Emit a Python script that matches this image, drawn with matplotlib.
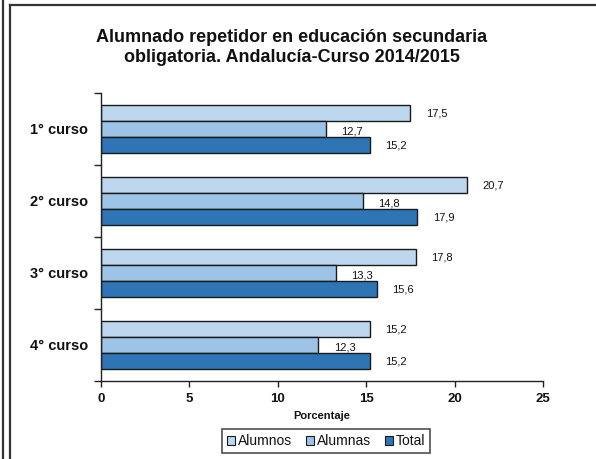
import matplotlib
matplotlib.use("Agg")
import matplotlib.pyplot as plt
from matplotlib.lines import Line2D
from matplotlib.patches import Patch
import numpy as np

plt.rcParams['font.family'] = ['Liberation Sans', 'DejaVu Sans']

cursos = ["1° curso", "2° curso", "3° curso", "4° curso"]
series = ["Alumnos", "Alumnas", "Total"]
alumnos = [17.5, 20.7, 17.8, 15.2]
alumnas = [12.7, 14.8, 13.3, 12.3]
total = [15.2, 17.9, 15.6, 15.2]
x_ticks = [0, 5, 10, 15, 20, 25]

colors = ["#BDD7EE", "#9DC3E6", "#2E75B6"]
text_col = "#111111"

W, H = 596, 459
fig = plt.figure(figsize=(W / 100, H / 100), dpi=100)
fig.patch.set_facecolor("white")

# outer frame lines
fig.add_artist(Line2D([2.5 / W, 2.5 / W], [0, 1], color="#333333", lw=1.6))
fig.add_artist(Line2D([9.5 / W, 9.5 / W], [0, 1 - 5 / H], color="#333333", lw=1.6))
fig.add_artist(Line2D([9.5 / W, 1], [1 - 5 / H, 1 - 5 / H], color="#333333", lw=1.6))

left, right = 101 / W, 543 / W
top, bottom = 1 - 93 / H, 1 - 381 / H
ax = fig.add_axes([left, bottom, right - left, top - bottom])

y = np.arange(len(cursos))
h = 16 / 72
offsets = [-h, 0, h]
data = [alumnos, alumnas, total]
for vals, off, c, name in zip(data, offsets, colors, series):
    bars = ax.barh(y + off, vals, height=h, color=c, edgecolor="#1a1a1a",
                   linewidth=1.0, label=name)
    for b, v in zip(bars, vals):
        dy = -2 if name == "Alumnas" else 0
        ax.annotate(f"{v:.1f}".replace(".", ","),
                    xy=(b.get_width(), b.get_y() + b.get_height() / 2),
                    xytext=(11, dy), textcoords="offset points",
                    ha="left", va="center", fontsize=8, color=text_col)

ax.set_xlim(0, 25)
ax.set_ylim(len(cursos) - 0.5, -0.5)
ax.set_xticks(x_ticks)
ax.set_xticklabels([str(t) for t in x_ticks], fontsize=9.5, fontweight="bold",
                   color=text_col)
ax.set_yticks(y)
ax.set_yticklabels(cursos, fontsize=10.5, fontweight="bold", color=text_col)
ax.tick_params(axis="y", which="major", length=0, pad=9.5)
ax.set_yticks(np.arange(-0.5, len(cursos)), minor=True)
ax.tick_params(axis="y", which="minor", length=5, width=1, color="#222222")
ax.tick_params(axis="x", length=4, width=1, color="#222222", pad=5)

for s in ["top", "right"]:
    ax.spines[s].set_visible(False)
for s in ["left", "bottom"]:
    ax.spines[s].set_color("#222222")
    ax.spines[s].set_linewidth(1.0)

ax.set_xlabel("Porcentaje", fontsize=8, fontweight="bold", color=text_col,
              labelpad=4)

fig.text(292 / W, 1 - 38 / H, "Alumnado repetidor en educación secundaria",
         ha="center", va="center", fontsize=13, fontweight="bold", color=text_col)
fig.text(292 / W, 1 - 57 / H, "obligatoria. Andalucía-Curso 2014/2015",
         ha="center", va="center", fontsize=13, fontweight="bold", color=text_col)

handles = [Patch(facecolor=c, edgecolor="#1a1a1a", linewidth=0.8) for c in colors]
leg = fig.legend(handles, series, loc="center", bbox_to_anchor=(326 / W, 1 - 441 / H),
                 ncol=3, fontsize=10, frameon=True, fancybox=False,
                 handlelength=0.6, handleheight=0.6, handletextpad=0.2,
                 columnspacing=1.0, borderpad=0.35, borderaxespad=0)
leg.get_frame().set_edgecolor("#222222")
leg.get_frame().set_linewidth(1.2)
for t in leg.get_texts():
    t.set_color(text_col)

fig.savefig("out.png", dpi=100, facecolor="white")
